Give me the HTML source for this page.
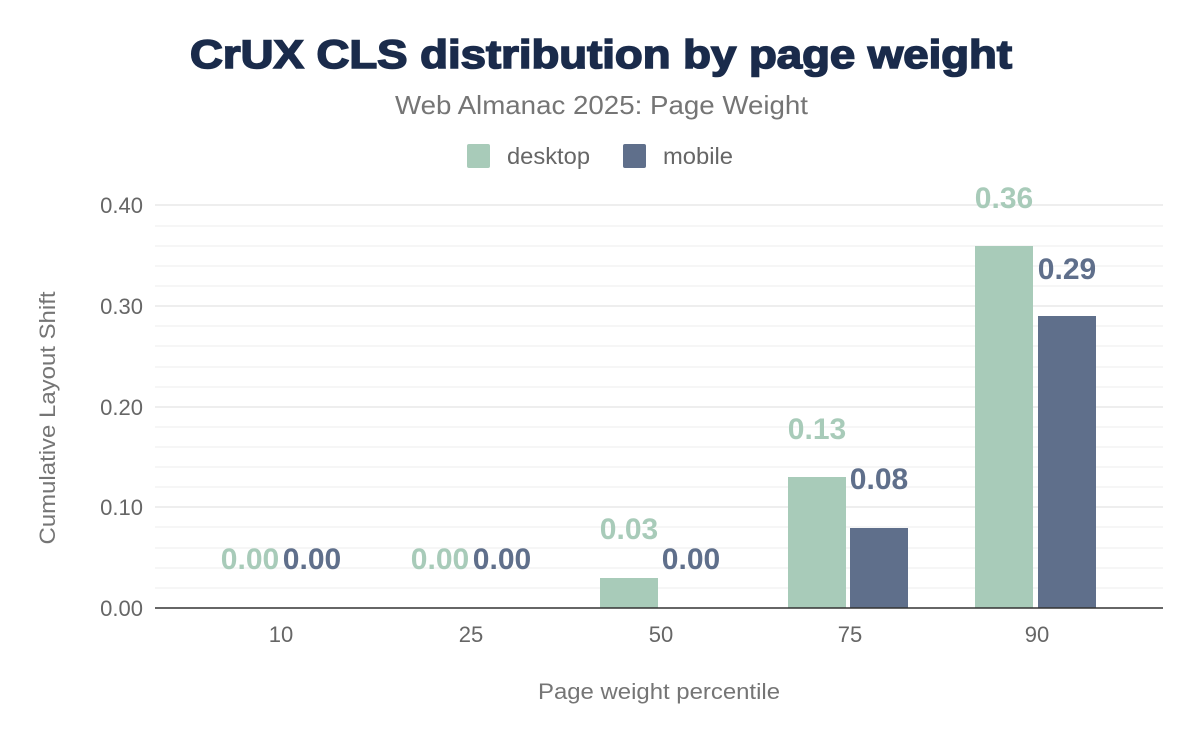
<!DOCTYPE html>
<html><head><meta charset="utf-8"><style>body{margin:0;background:#fff}svg{display:block}</style></head>
<body>
<svg width="1200" height="742" xmlns="http://www.w3.org/2000/svg" font-family="Liberation Sans, sans-serif">
<text x="190" y="68" textLength="822" lengthAdjust="spacingAndGlyphs" font-size="40" font-weight="900" fill="#1a2b4b" stroke="#1a2b4b" stroke-width="1.6">CrUX CLS distribution by page weight</text>
<text x="395" y="114" textLength="413" lengthAdjust="spacingAndGlyphs" font-size="26" fill="#757575">Web Almanac 2025: Page Weight</text>
<rect x="467" y="144" width="23" height="24" rx="2" fill="#a8cbb9"/>
<text x="507" y="164" textLength="83" lengthAdjust="spacingAndGlyphs" font-size="23" fill="#666">desktop</text>
<rect x="623" y="144" width="23" height="24" rx="2" fill="#5f6f8b"/>
<text x="663" y="164" textLength="70" lengthAdjust="spacingAndGlyphs" font-size="23" fill="#666">mobile</text>
<g stroke="#f3f3f3" stroke-width="1.5">
<line x1="155" x2="1163" y1="588" y2="588"/><line x1="155" x2="1163" y1="568" y2="568"/><line x1="155" x2="1163" y1="548" y2="548"/><line x1="155" x2="1163" y1="527" y2="527"/>
<line x1="155" x2="1163" y1="487" y2="487"/><line x1="155" x2="1163" y1="467" y2="467"/><line x1="155" x2="1163" y1="447" y2="447"/><line x1="155" x2="1163" y1="427" y2="427"/>
<line x1="155" x2="1163" y1="387" y2="387"/><line x1="155" x2="1163" y1="367" y2="367"/><line x1="155" x2="1163" y1="346" y2="346"/><line x1="155" x2="1163" y1="326" y2="326"/>
<line x1="155" x2="1163" y1="286" y2="286"/><line x1="155" x2="1163" y1="266" y2="266"/><line x1="155" x2="1163" y1="246" y2="246"/><line x1="155" x2="1163" y1="226" y2="226"/>
</g>
<g stroke="#e8e8e8" stroke-width="1.5">
<line x1="155" x2="1163" y1="507" y2="507"/><line x1="155" x2="1163" y1="407" y2="407"/><line x1="155" x2="1163" y1="306" y2="306"/><line x1="155" x2="1163" y1="205" y2="205"/>
</g>
<g font-size="22" fill="#666" text-anchor="end">
<text x="143" y="616">0.00</text><text x="143" y="515">0.10</text><text x="143" y="415">0.20</text><text x="143" y="314">0.30</text><text x="143" y="213">0.40</text>
</g>
<text transform="translate(55,418) rotate(-90)" text-anchor="middle" font-size="22" textLength="253" lengthAdjust="spacingAndGlyphs" fill="#757575">Cumulative Layout Shift</text>
<rect x="600" y="578" width="58" height="30" fill="#a8cbb9"/>
<rect x="788" y="477" width="58" height="131" fill="#a8cbb9"/>
<rect x="850" y="528" width="58" height="80" fill="#5f6f8b"/>
<rect x="975" y="246" width="58" height="362" fill="#a8cbb9"/>
<rect x="1038" y="316" width="58" height="292" fill="#5f6f8b"/>
<line x1="155" x2="1163" y1="608" y2="608" stroke="#333" stroke-width="1.5"/>
<g font-size="22" fill="#666" text-anchor="middle">
<text x="281" y="642">10</text><text x="471" y="642">25</text><text x="661" y="642">50</text><text x="850" y="642">75</text><text x="1037" y="642">90</text>
</g>
<text x="659" y="699" text-anchor="middle" font-size="22" textLength="242" lengthAdjust="spacingAndGlyphs" fill="#757575">Page weight percentile</text>
<g font-size="30" font-weight="bold" text-anchor="middle">
<g fill="#a8cbb9">
<text x="250" y="569">0.00</text><text x="440" y="569">0.00</text><text x="629" y="539">0.03</text><text x="817" y="439">0.13</text><text x="1004" y="208">0.36</text>
</g>
<g fill="#5f6f8b">
<text x="312" y="569">0.00</text><text x="502" y="569">0.00</text><text x="691" y="569">0.00</text><text x="879" y="489">0.08</text><text x="1067" y="279">0.29</text>
</g>
</g>
</svg>
</body></html>
